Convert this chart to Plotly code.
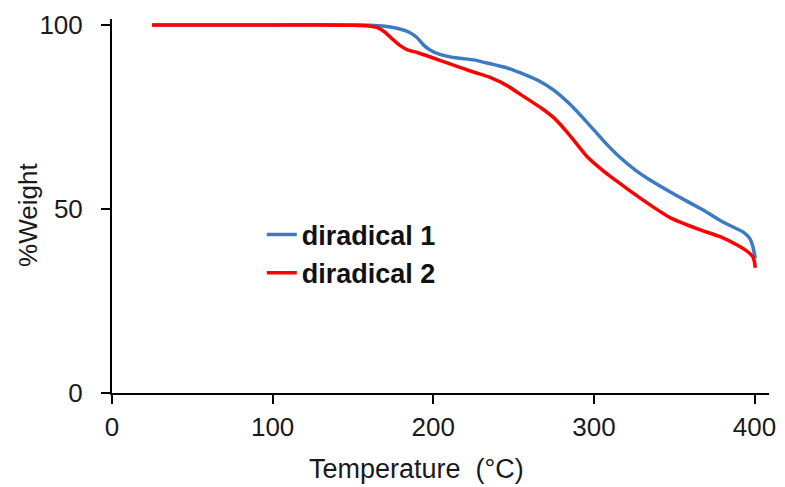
import plotly.graph_objects as go

# Data
t1 = [25, 50, 100, 150, 160, 170, 178, 185, 190, 194, 198, 204, 215, 225, 235, 246, 254, 267, 275, 285, 296, 306, 316, 326, 337, 350, 368, 380, 393, 397, 399, 400.5]
w1 = [100, 100, 100, 100, 99.9, 99.6, 99.0, 98, 96.5, 94.5, 93.2, 92, 91, 90.5, 89.5, 88.3, 87, 84.5, 82.3, 78.5, 73.4, 68.5, 64.1, 60.5, 57.3, 54, 49.7, 46.5, 43.7, 42, 39.7, 36.5]

t2 = [25, 50, 100, 150, 160, 165, 170, 175, 179, 184, 190, 200, 210, 225, 235, 246, 254, 267, 275, 285, 296, 306, 316, 326, 337, 348, 365, 379, 390, 396, 399, 400, 400.5]
w2 = [100, 100, 100, 99.9, 99.7, 99.3, 98, 96, 94.5, 93.2, 92.5, 91, 89.5, 87.2, 85.8, 83.5, 81.2, 77.5, 74.8, 70, 64.1, 60.3, 57, 53.8, 50.5, 47.5, 44.5, 42.4, 40, 38.3, 37, 35.5, 34]

names = ["diradical 1", "diradical 2"]
x_ticks = [0, 100, 200, 300, 400]
y_ticks = [0, 50, 100]

FONT = "Liberation Sans, Arial, sans-serif"

fig = go.Figure()
fig.add_trace(go.Scatter(x=t1, y=w1, mode="lines", name=names[0],
                         line=dict(color="#3C7BC3", width=3.5, shape="spline", smoothing=0.4)))
fig.add_trace(go.Scatter(x=t2, y=w2, mode="lines", name=names[1],
                         line=dict(color="#FF0000", width=3.5, shape="spline", smoothing=0.4)))

fig.update_layout(
    width=785, height=487,
    margin=dict(l=104, r=24, t=11, b=102, autoexpand=False),
    paper_bgcolor="white", plot_bgcolor="white",
    font=dict(family=FONT, size=26, color="#1a1a1a"),
    showlegend=True,
    legend=dict(x=0.228, y=0.488, xanchor="left", yanchor="top",
                bgcolor="rgba(0,0,0,0)", font=dict(family=FONT, size=27, color="#111111", weight="bold"),
                tracegroupgap=0, itemwidth=30),
    xaxis=dict(range=[0, 409], tickvals=x_ticks, ticks="outside", ticklen=9, tickwidth=2,
               tickcolor="black", showline=True, linecolor="black", linewidth=2,
               showgrid=False, zeroline=False, tickfont=dict(size=26),
               ticklabelstandoff=1, automargin=False),
    yaxis=dict(range=[0, 101.6], tickvals=y_ticks, ticks="outside", ticklen=9, tickwidth=2,
               tickcolor="black", showline=True, linecolor="black", linewidth=2,
               showgrid=False, zeroline=False, tickfont=dict(size=26),
               ticklabelstandoff=13, automargin=False),
    annotations=[
        dict(text="Temperature  (°C)", xref="paper", yref="paper", x=(416 - 112) / 657, y=-0.158,
             xanchor="center", yanchor="top", showarrow=False, font=dict(size=27)),
        dict(text="%Weight", xref="paper", yref="paper", x=-0.128, y=(393 - 215) / 374,
             xanchor="center", yanchor="middle", textangle=-90, showarrow=False, font=dict(size=26)),
    ],
)

fig.write_html("out.html")
